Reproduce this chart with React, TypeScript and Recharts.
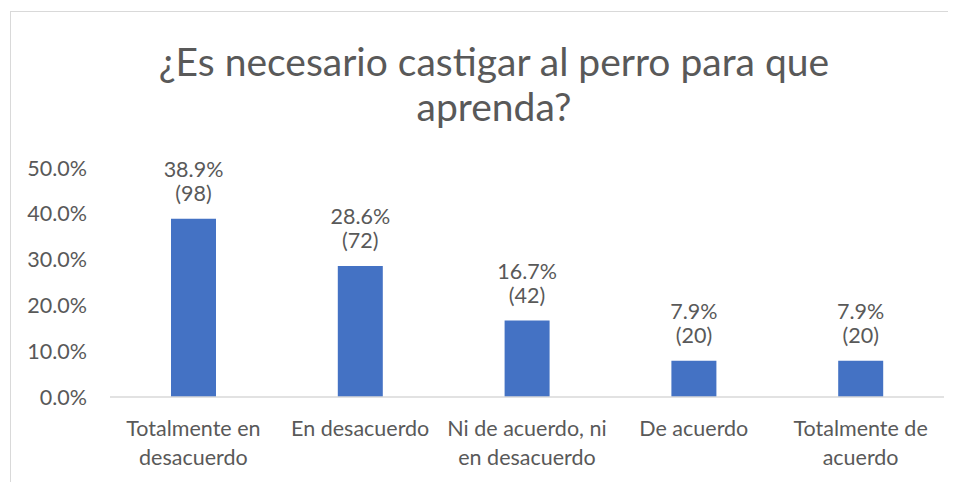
import React from 'react';
import { BarChart, Bar, XAxis, YAxis, LabelList } from 'recharts';

const categories = [
  'Totalmente en desacuerdo',
  'En desacuerdo',
  'Ni de acuerdo, ni en desacuerdo',
  'De acuerdo',
  'Totalmente de acuerdo',
];
const categoryLines = [
  ['Totalmente en', 'desacuerdo'],
  ['En desacuerdo'],
  ['Ni de acuerdo, ni', 'en desacuerdo'],
  ['De acuerdo'],
  ['Totalmente de', 'acuerdo'],
];
const percents = [38.9, 28.6, 16.7, 7.9, 7.9];
const counts = [98, 72, 42, 20, 20];
const yTicks = [0, 10, 20, 30, 40, 50];

const data = categories.map((name, i) => ({
  name,
  lines: categoryLines[i],
  pct: percents[i],
  count: counts[i],
}));

const FONT = 'Lato, sans-serif';
const GREY = '#595959';
const SIZE = 21.5;

const CategoryTick = (props: any) => {
  const { x, y, index } = props;
  const lines = categoryLines[index] || [];
  return (
    <text x={x} y={y + 31} textAnchor="middle" fill={GREY} fontSize={SIZE} fontFamily={FONT}>
      {lines.map((l, i) => (
        <tspan key={i} x={x} dy={i === 0 ? 0 : 29}>{l}</tspan>
      ))}
    </text>
  );
};

const BarLabel = (props: any) => {
  const { x, y, width, index } = props;
  const cx = x + width / 2;
  return (
    <text x={cx} y={y - 42} textAnchor="middle" fill={GREY} fontSize={SIZE} fontFamily={FONT}>
      <tspan x={cx} dy={0}>{percents[index].toFixed(1)}%</tspan>
      <tspan x={cx} dy={24}>({counts[index]})</tspan>
    </text>
  );
};

const App = () => {
  return (
    <div
      style={{
        position: 'relative',
        marginLeft: 2,
        marginTop: 3,
        width: 960,
        height: 480,
        border: '1px solid #d9d9d9',
        fontFamily: FONT,
        background: '#fff',
      }}
    >
      <div
        style={{
          position: 'absolute',
          left: 14,
          top: 27,
          width: 938,
          textAlign: 'center',
          color: GREY,
          fontSize: 39,
          lineHeight: '45px',
        }}
      >
        ¿Es necesario castigar al perro para que
        <br />
        aprenda?
      </div>
      <BarChart
        width={950}
        height={470}
        data={data}
        margin={{ top: 156, right: 17, left: 0, bottom: 25 }}
      >
        <XAxis
          dataKey="name"
          axisLine={{ stroke: '#d9d9d9', strokeWidth: 1.5 }}
          tickLine={false}
          tick={<CategoryTick />}
          interval={0}
          height={60}
        />
        <YAxis
          width={99}
          domain={[0, 50]}
          ticks={yTicks}
          axisLine={false}
          tickLine={false}
          tickSize={0}
          tickMargin={23}
          tickFormatter={(v: number) => `${v.toFixed(1)}%`}
          tick={{ fill: GREY, fontSize: SIZE, fontFamily: FONT }}
        />
        <Bar dataKey="pct" fill="#4472c4" barSize={45} isAnimationActive={false}>
          <LabelList dataKey="pct" content={<BarLabel />} />
        </Bar>
      </BarChart>
    </div>
  );
};

export default App;
